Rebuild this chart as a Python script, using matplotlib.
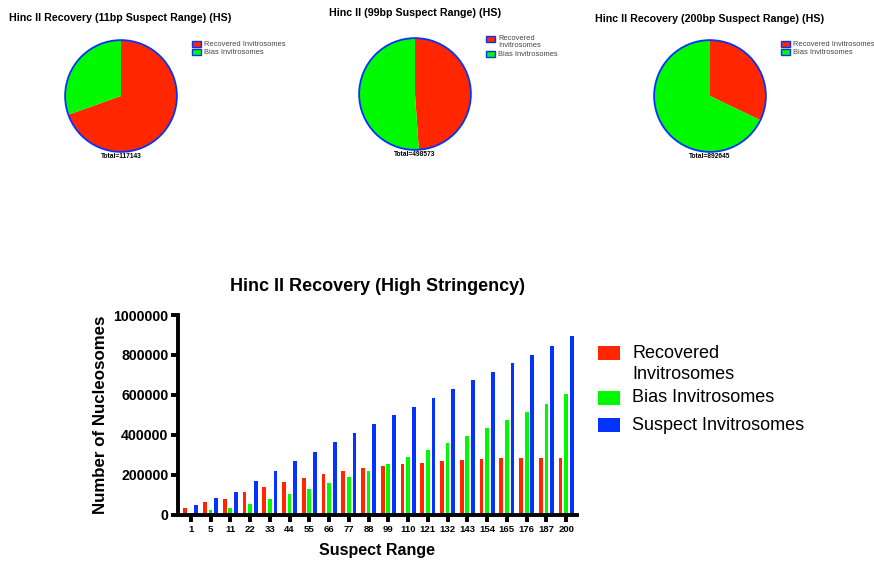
import numpy as np
import matplotlib
matplotlib.use("Agg")
from matplotlib import pyplot as plt
from matplotlib.patches import Circle, Rectangle

plt.rcParams["font.family"] = ["Liberation Sans", "DejaVu Sans"]

ranges = ["1", "5", "11", "22", "33", "44", "55", "66", "77", "88", "99",
          "110", "121", "132", "143", "154", "165", "176", "187", "200"]
recovered = [35000, 66500, 81500, 116500, 141500, 166500, 186500, 206500, 220000, 235000,
             243800, 255000, 260000, 270000, 275000, 280000, 285000, 285000, 285000, 287000]
bias = [0, 26500, 35643, 56500, 80000, 106500, 130000, 161500, 190000, 220000,
        254773, 290000, 325000, 360000, 395000, 435000, 475000, 515000, 555000, 605645]
suspect = [51500, 86500, 117143, 171500, 221500, 271500, 316500, 366500, 410000, 455000,
           498573, 540000, 585000, 630000, 675000, 715000, 760000, 800000, 845000, 892645]

series_names = ["Recovered Invitrosomes", "Bias Invitrosomes", "Suspect Invitrosomes"]
colors = ["#FF2600", "#00F900", "#0433FF"]

pie_ranges = ["11", "99", "200"]
pie_titles = ["Hinc II Recovery (11bp Suspect Range) (HS)",
              "Hinc II (99bp Suspect Range) (HS)",
              "Hinc II Recovery (200bp Suspect Range) (HS)"]

W, H = 874, 563
fig = plt.figure(figsize=(W / 100, H / 100), dpi=100)


def fx(px):
    return px / W


def fy(py):
    return 1 - py / H


# ---- pies ----
pie_centers = [(121, 96), (415, 94), (710, 96)]
pie_r = 57
title_pos = [(120, 18), (415, 13), (710, 19)]
leg_pos = [(192, 44), (486, 39), (781, 44)]

for k, rng in enumerate(pie_ranges):
    i = ranges.index(rng)
    cx, cy = pie_centers[k]
    ax = fig.add_axes([fx(cx - pie_r), fy(cy + pie_r), fx(2 * pie_r), 2 * pie_r / H])
    ax.pie([recovered[i], bias[i]], colors=colors[:2], startangle=90,
           counterclock=False, radius=1, wedgeprops=dict(linewidth=0))
    ax.add_patch(Circle((0, 0), 1, fill=False, edgecolor=colors[2], linewidth=1.3))
    ax.set_xlim(-1.02, 1.02)
    ax.set_ylim(-1.02, 1.02)
    ax.set_aspect("equal")
    ax.axis("off")
    fig.text(fx(cx), fy(cy + pie_r + 3), f"Total={suspect[i]}", ha="center",
             va="center", fontsize=4.8, fontweight="bold")
    tx, ty = title_pos[k]
    fig.text(fx(tx), fy(ty), pie_titles[k], ha="center", va="center",
             fontsize=7.7, fontweight="bold")

    lx, ly = leg_pos[k]
    labels = series_names[:2]
    if k == 1:
        labels = ["Recovered\nInvitrosomes", "Bias Invitrosomes"]
    row_y = [ly, ly + 8] if k != 1 else [ly, ly + 15]
    for j in range(2):
        fig.patches.append(Rectangle((fx(lx), fy(row_y[j] + 3)), fx(9), 6 / H,
                                     transform=fig.transFigure, facecolor=colors[j],
                                     edgecolor=colors[2], linewidth=1.0))
        if "\n" in labels[j]:
            fig.text(fx(lx + 12), fy(row_y[j] - 4), labels[j], ha="left", va="top",
                     fontsize=5.4, color="#444444", linespacing=1.05)
        else:
            fig.text(fx(lx + 12), fy(row_y[j]), labels[j], ha="left", va="center",
                     fontsize=5.4, color="#444444")

# ---- bar chart ----
ax = fig.add_axes([fx(178), fy(515), fx(577 - 178), 200 / H])
x = np.arange(len(ranges))
w = 0.19
off = 0.28
ax.bar(x - off, recovered, w, color=colors[0])
ax.bar(x, bias, w, color=colors[1])
ax.bar(x + off, suspect, w, color=colors[2])

ax.set_xlim(-0.65, len(ranges) - 0.45)
ax.set_ylim(0, 1000000)
ax.set_yticks(np.arange(0, 1000001, 200000))
ax.set_yticklabels([str(v) for v in range(0, 1000001, 200000)],
                   fontsize=10.2, fontweight="bold")
ax.set_xticks(x)
ax.set_xticklabels(ranges, fontsize=6.8, fontweight="bold")
ax.tick_params(axis="both", width=2.8, length=5, direction="out")
ax.tick_params(axis="x", pad=2)
ax.tick_params(axis="y", pad=2)
for s in ["top", "right"]:
    ax.spines[s].set_visible(False)
for s in ["left", "bottom"]:
    ax.spines[s].set_linewidth(2.8)

ax.set_title("Hinc II Recovery (High Stringency)", fontsize=13, fontweight="bold", pad=17)
ax.set_ylabel("Number of Nucleosomes", fontsize=12.2, fontweight="bold", labelpad=4)
ax.set_xlabel("Suspect Range", fontsize=11.5, fontweight="bold", labelpad=7)

# bar legend
bar_labels = ["Recovered\nInvitrosomes", "Bias Invitrosomes", "Suspect Invitrosomes"]
rows = [353, 398, 425]
for j in range(3):
    fig.patches.append(Rectangle((fx(598), fy(rows[j] + 7)), fx(22), 14 / H,
                                 transform=fig.transFigure, facecolor=colors[j],
                                 edgecolor="none"))
    if j == 0:
        fig.text(fx(632), fy(rows[j] - 8), bar_labels[j], ha="left", va="top",
                 fontsize=13, linespacing=1.3)
    else:
        fig.text(fx(632), fy(rows[j]), bar_labels[j], ha="left", va="center",
                 fontsize=13)

fig.savefig("out.png", dpi=100)
